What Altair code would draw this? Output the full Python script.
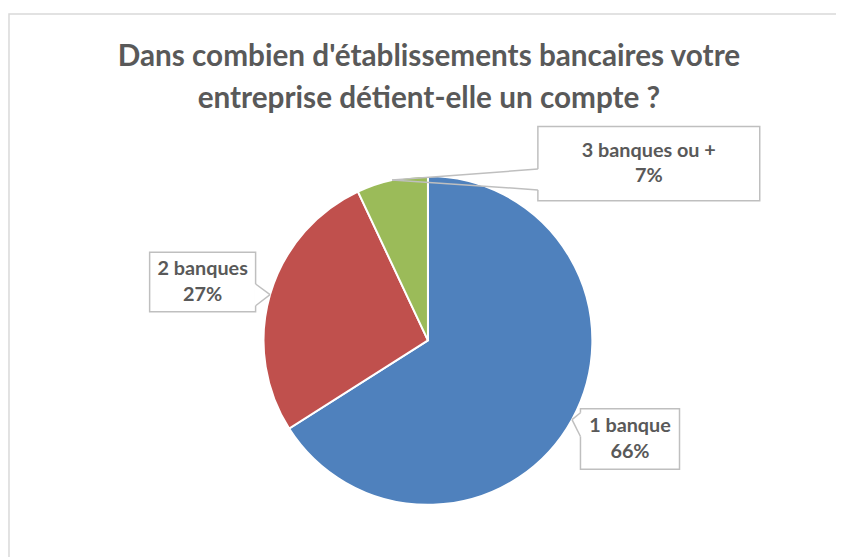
import altair as alt
import pandas as pd
import numpy as np

# ---- data ----
categories = ["1 banque", "2 banques", "3 banques ou +"]
values = [66, 27, 7]
pct_labels = ["66%", "27%", "7%"]
colors = ["#4F81BD", "#C0504D", "#9BBB59"]
title_lines = ["Dans combien d'établissements bancaires votre",
               "entreprise détient-elle un compte ?"]

# ---- layout (chart pixels) ----
W, H = 836, 549
R = 166
CX, CY = 424, 333  # pie centre inside the chart
PAGE = 8

# callout boxes in page pixels: (x0, y0, x1, y1), pointer side, pointer base y-range
boxes = {
    "1 banque": ((586, 410, 686, 471), "left", (414, 438)),
    "2 banques": ((151, 252, 258, 312), "right", (284, 306)),
    "3 banques ou +": ((543, 125, 767, 200), "left", (168, 189)),
}


def ux(px):
    return (px - PAGE - CX) / R


def uy(py):
    return (py - PAGE - CY) / R


xs = alt.Scale(domain=[-CX / R, (W - CX) / R], range=[0, W])
ys = alt.Scale(domain=[-CY / R, (H - CY) / R], range=[0, H])

df = pd.DataFrame({"cat": categories, "value": values, "pct": pct_labels,
                   "order": list(range(len(categories)))})
total = df["value"].sum()
cum = df["value"].cumsum()
mid = (cum - df["value"] / 2) / total * 2 * np.pi
df["tip_x"] = np.sin(mid)
df["tip_y"] = -np.cos(mid)
df["label"] = df["cat"] + "\n" + df["pct"]

bx0, by0, bx1, by1, ex, eb1, eb2 = [], [], [], [], [], [], []
for c in df["cat"]:
    (x0, y0, x1, y1), side, (b1, b2) = boxes[c]
    bx0.append(ux(x0)); by0.append(uy(y0)); bx1.append(ux(x1)); by1.append(uy(y1))
    ex.append(ux(x0 if side == "left" else x1))
    eb1.append(uy(b1)); eb2.append(uy(b2))
df["bx0"], df["by0"], df["bx1"], df["by1"] = bx0, by0, bx1, by1
df["cx"] = (df["bx0"] + df["bx1"]) / 2
df["cy"] = (df["by0"] + df["by1"]) / 2
df["ex"], df["eb1"], df["eb2"] = ex, eb1, eb2

seg = pd.concat([
    df[["cat", "tip_x", "tip_y", "ex"]].assign(ey=df["eb1"]),
    df[["cat", "tip_x", "tip_y", "ex"]].assign(ey=df["eb2"]),
])

FONT = "Lato"
TXT = "#595959"
LH = 26

border = alt.Chart(pd.DataFrame({"a": [0]})).mark_rect(
    filled=False, stroke="#D9D9D9", strokeWidth=1.5
).encode(x=alt.value(1), x2=alt.value(W + 20), y=alt.value(3.5), y2=alt.value(H + 20))

pie = alt.Chart(df).mark_arc(radius=R, stroke="white", strokeWidth=2).encode(
    theta=alt.Theta("value:Q", stack=True),
    order=alt.Order("order:Q"),
    color=alt.Color("cat:N", scale=alt.Scale(domain=categories, range=colors), legend=None),
    x=alt.datum(0, type="quantitative", scale=xs, axis=None),
    y=alt.datum(0, type="quantitative", scale=ys, axis=None),
)

rects = alt.Chart(df).mark_rect(fill="white", stroke="#BFBFBF", strokeWidth=1.5).encode(
    x=alt.X("bx0:Q", scale=xs, axis=None), x2="bx1:Q",
    y=alt.Y("by0:Q", scale=ys, axis=None), y2="by1:Q",
)

cover = alt.Chart(df).mark_rule(stroke="white", strokeWidth=3).encode(
    x=alt.X("ex:Q", scale=xs, axis=None),
    y=alt.Y("eb1:Q", scale=ys, axis=None), y2="eb2:Q",
)

leaders = alt.Chart(seg).mark_rule(stroke="#BFBFBF", strokeWidth=1.5).encode(
    x=alt.X("tip_x:Q", scale=xs, axis=None), x2="ex:Q",
    y=alt.Y("tip_y:Q", scale=ys, axis=None), y2="ey:Q",
)

labels = alt.Chart(df).mark_text(
    font=FONT, fontWeight="bold", fontSize=20, color=TXT,
    lineBreak="\n", lineHeight=LH, align="center", baseline="middle", dy=-LH / 2
).encode(
    x=alt.X("cx:Q", scale=xs, axis=None),
    y=alt.Y("cy:Q", scale=ys, axis=None),
    text="label:N",
)

title = alt.Chart(pd.DataFrame({"a": [0]})).mark_text(
    text=title_lines, font=FONT, fontWeight="bold", fontSize=30, color=TXT,
    lineHeight=42, align="center", baseline="middle"
).encode(x=alt.value(CX + 1), y=alt.value(47))

chart = alt.layer(border, pie, rects, cover, leaders, labels, title).properties(
    width=W, height=H, padding=0, autosize=alt.AutoSizeParams(type="none")
).configure_view(stroke=None)

chart.save("out.html", embed_options={"renderer": "svg", "actions": False})
